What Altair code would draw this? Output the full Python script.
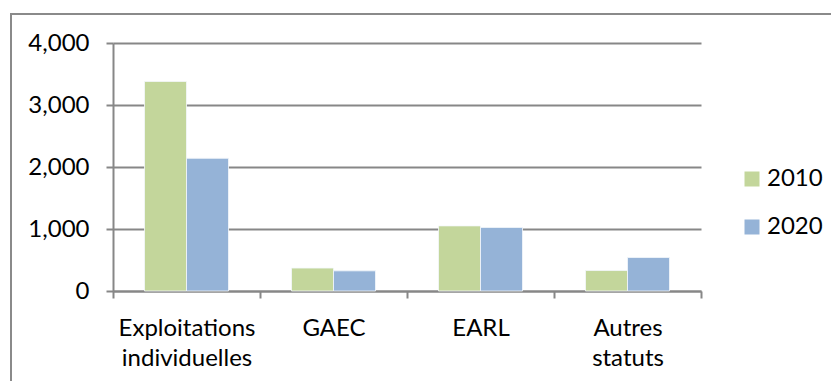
import altair as alt
import pandas as pd

# Number of farms by legal status
categories = ["Exploitations individuelles", "GAEC", "EARL", "Autres statuts"]
years = ["2010", "2020"]
values_2010 = [3380, 370, 1050, 330]
values_2020 = [2140, 325, 1025, 540]
y_ticks = [0, 1000, 2000, 3000, 4000]

rows = []
for cat, a, b in zip(categories, values_2010, values_2020):
    rows.append({"statut": cat, "annee": years[0], "nombre": a})
    rows.append({"statut": cat, "annee": years[1], "nombre": b})
df = pd.DataFrame(rows)

FONT = "Lato"
FSIZE = 24
GRID = "#878787"

bars = alt.Chart(df).mark_bar(stroke="#f4f7fb", strokeWidth=0.8).encode(
    x=alt.X(
        "statut:N",
        sort=categories,
        title=None,
        scale=alt.Scale(paddingInner=0, paddingOuter=0),
        axis=alt.Axis(
            labelAngle=0,
            labelExpr="split(datum.label, ' ')",
            labelFont=FONT,
            labelFontSize=FSIZE,
            labelColor="#000000",
            labelLineHeight=30,
            labelPadding=18,
            labelBaseline="top",
            tickBand="extent",
            tickSize=7,
            tickColor=GRID,
            tickWidth=2,
            domainColor=GRID,
            domainWidth=2,
            grid=False,
        ),
    ),
    xOffset=alt.XOffset(
        "annee:N",
        sort=years,
        scale=alt.Scale(paddingInner=0, paddingOuter=0.75),
    ),
    y=alt.Y(
        "nombre:Q",
        title=None,
        scale=alt.Scale(domain=[0, 4000], nice=False),
        axis=alt.Axis(
            values=y_ticks,
            format=",.0f",
            labelFont=FONT,
            labelFontSize=FSIZE,
            labelColor="#000000",
            labelPadding=17,
            tickSize=7,
            tickColor=GRID,
            tickWidth=2,
            domainColor=GRID,
            domainWidth=2,
            grid=True,
            gridColor=GRID,
            gridWidth=2,
            gridOpacity=1,
        ),
    ),
    color=alt.Color(
        "annee:N",
        sort=years,
        scale=alt.Scale(domain=years, range=["#c3d69b", "#95b3d7"]),
        legend=alt.Legend(
            title=None,
            orient="none",
            legendX=627,
            legendY=124,
            symbolType="square",
            symbolSize=225,
            symbolStrokeWidth=0,
            symbolOpacity=1,
            labelFont=FONT,
            labelFontSize=FSIZE,
            labelColor="#000000",
            labelOffset=3,
            rowPadding=24,
        ),
    ),
)

# Outer frame around the whole chart
frame = alt.Chart(pd.DataFrame({"k": [0]})).mark_rect(
    fill=None, stroke="#8a8a8a", strokeWidth=2
).encode(
    x=alt.value(-102),
    x2=alt.value(740),
    y=alt.value(-29),
    y2=alt.value(360),
)

chart = alt.layer(frame, bars).properties(
    width=588,
    height=248,
    autosize=alt.AutoSizeParams(type="none"),
    padding={"left": 113, "top": 43, "right": 130, "bottom": 90},
    background="#ffffff",
).configure_view(stroke=None)

chart.save("out.html", embed_options={"renderer": "svg", "actions": False})
